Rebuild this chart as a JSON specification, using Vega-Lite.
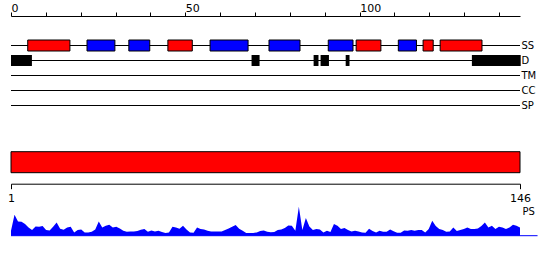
{
  "$schema": "https://vega.github.io/schema/vega-lite/v6.json",
  "padding": {"left": 7, "top": 2, "right": 0, "bottom": 0},
  "spacing": 15.7,
  "config": {
    "view": {"stroke": null},
    "font": "DejaVu Sans",
    "axis": {"domainColor": "black", "tickColor": "black", "labelColor": "black", "titleColor": "black", "grid": false, "labelFont": "DejaVu Sans", "titleFont": "DejaVu Sans"}
  },
  "datasets": {
    "tracks": [
      {"track": "SS", "start": 0, "end": 146},
      {"track": "D", "start": 0, "end": 146},
      {"track": "TM", "start": 0, "end": 146},
      {"track": "CC", "start": 0, "end": 146},
      {"track": "SP", "start": 0, "end": 146}
    ],
    "ss": [
      {"track": "SS", "type": "helix", "start": 4.8, "end": 16.9},
      {"track": "SS", "type": "strand", "start": 21.8, "end": 29.8},
      {"track": "SS", "type": "strand", "start": 33.8, "end": 39.8},
      {"track": "SS", "type": "helix", "start": 45.0, "end": 52.0},
      {"track": "SS", "type": "strand", "start": 57.1, "end": 68.0},
      {"track": "SS", "type": "strand", "start": 74.0, "end": 82.9},
      {"track": "SS", "type": "strand", "start": 91.0, "end": 98.1},
      {"track": "SS", "type": "helix", "start": 99.0, "end": 106.1},
      {"track": "SS", "type": "strand", "start": 111.1, "end": 116.3},
      {"track": "SS", "type": "helix", "start": 118.2, "end": 121.1},
      {"track": "SS", "type": "helix", "start": 123.1, "end": 135.1}
    ],
    "dis": [
      {"track": "D", "start": 0, "end": 6.0},
      {"track": "D", "start": 69.0, "end": 71.3},
      {"track": "D", "start": 86.8, "end": 88.2},
      {"track": "D", "start": 88.8, "end": 91.2},
      {"track": "D", "start": 96.0, "end": 97.1},
      {"track": "D", "start": 132.2, "end": 146.2}
    ],
    "prot": [{"start": 1, "end": 146}],
    "base": [{"pos": 1, "end": 151}],
    "ps": [
      {"pos": 1, "score": 5}, {"pos": 2, "score": 21}, {"pos": 3, "score": 14.3}, {"pos": 4, "score": 14},
      {"pos": 5, "score": 11.7}, {"pos": 6, "score": 8.3}, {"pos": 7, "score": 5.7}, {"pos": 8, "score": 9.3},
      {"pos": 9, "score": 9}, {"pos": 10, "score": 9.7}, {"pos": 11, "score": 5.7}, {"pos": 12, "score": 5.3},
      {"pos": 13, "score": 9}, {"pos": 14, "score": 13.3}, {"pos": 15, "score": 7}, {"pos": 16, "score": 6},
      {"pos": 17, "score": 8.3}, {"pos": 18, "score": 9}, {"pos": 19, "score": 3.3}, {"pos": 20, "score": 5.7},
      {"pos": 21, "score": 6.3}, {"pos": 22, "score": 3.3}, {"pos": 23, "score": 3.3}, {"pos": 24, "score": 4},
      {"pos": 25, "score": 6.3}, {"pos": 26, "score": 14.3}, {"pos": 27, "score": 8.3}, {"pos": 28, "score": 10},
      {"pos": 29, "score": 11}, {"pos": 30, "score": 8.3}, {"pos": 31, "score": 9}, {"pos": 32, "score": 7.3},
      {"pos": 33, "score": 5}, {"pos": 34, "score": 4}, {"pos": 35, "score": 4.3}, {"pos": 36, "score": 4.3},
      {"pos": 37, "score": 4.7}, {"pos": 38, "score": 6}, {"pos": 39, "score": 6.7}, {"pos": 40, "score": 4},
      {"pos": 41, "score": 5.3}, {"pos": 42, "score": 4.3}, {"pos": 43, "score": 5}, {"pos": 44, "score": 3.7},
      {"pos": 45, "score": 2.7}, {"pos": 46, "score": 3.3}, {"pos": 47, "score": 9}, {"pos": 48, "score": 8.3},
      {"pos": 49, "score": 7}, {"pos": 50, "score": 10}, {"pos": 51, "score": 6.3}, {"pos": 52, "score": 3.3},
      {"pos": 53, "score": 3}, {"pos": 54, "score": 8.3}, {"pos": 55, "score": 6.7}, {"pos": 56, "score": 6.3},
      {"pos": 57, "score": 5}, {"pos": 58, "score": 4.3}, {"pos": 59, "score": 4.3}, {"pos": 60, "score": 4.3},
      {"pos": 61, "score": 4.3}, {"pos": 62, "score": 5.7}, {"pos": 63, "score": 7.3}, {"pos": 64, "score": 9},
      {"pos": 65, "score": 10.7}, {"pos": 66, "score": 7}, {"pos": 67, "score": 5}, {"pos": 68, "score": 2.7},
      {"pos": 69, "score": 2.7}, {"pos": 70, "score": 2.7}, {"pos": 71, "score": 3.3}, {"pos": 72, "score": 4.7},
      {"pos": 73, "score": 5.3}, {"pos": 74, "score": 4}, {"pos": 75, "score": 3.5}, {"pos": 76, "score": 3.7},
      {"pos": 77, "score": 5.7}, {"pos": 78, "score": 6.3}, {"pos": 79, "score": 7.7}, {"pos": 80, "score": 10.3},
      {"pos": 81, "score": 10}, {"pos": 82, "score": 5}, {"pos": 83, "score": 29}, {"pos": 84, "score": 5.7},
      {"pos": 85, "score": 17.7}, {"pos": 86, "score": 9.3}, {"pos": 87, "score": 5.7}, {"pos": 88, "score": 6.7},
      {"pos": 89, "score": 6.3}, {"pos": 90, "score": 3.3}, {"pos": 91, "score": 5}, {"pos": 92, "score": 3.7},
      {"pos": 93, "score": 11.7}, {"pos": 94, "score": 10}, {"pos": 95, "score": 6.7}, {"pos": 96, "score": 7.7},
      {"pos": 97, "score": 5.7}, {"pos": 98, "score": 4.3}, {"pos": 99, "score": 5}, {"pos": 100, "score": 4.3},
      {"pos": 101, "score": 3.3}, {"pos": 102, "score": 3}, {"pos": 103, "score": 7}, {"pos": 104, "score": 4.7},
      {"pos": 105, "score": 3.3}, {"pos": 106, "score": 5}, {"pos": 107, "score": 4}, {"pos": 108, "score": 4},
      {"pos": 109, "score": 6.3}, {"pos": 110, "score": 4.5}, {"pos": 111, "score": 3}, {"pos": 112, "score": 3},
      {"pos": 113, "score": 5.3}, {"pos": 114, "score": 5}, {"pos": 115, "score": 5.7}, {"pos": 116, "score": 5},
      {"pos": 117, "score": 5.7}, {"pos": 118, "score": 5.7}, {"pos": 119, "score": 3.3}, {"pos": 120, "score": 6.7},
      {"pos": 121, "score": 15}, {"pos": 122, "score": 9.7}, {"pos": 123, "score": 6.7}, {"pos": 124, "score": 5.7},
      {"pos": 125, "score": 4}, {"pos": 126, "score": 4.3}, {"pos": 127, "score": 8.3}, {"pos": 128, "score": 4.7},
      {"pos": 129, "score": 5.7}, {"pos": 130, "score": 6.7}, {"pos": 131, "score": 8.3}, {"pos": 132, "score": 6.7},
      {"pos": 133, "score": 6.7}, {"pos": 134, "score": 7.3}, {"pos": 135, "score": 9.7}, {"pos": 136, "score": 13.3},
      {"pos": 137, "score": 8.3}, {"pos": 138, "score": 10}, {"pos": 139, "score": 6.7}, {"pos": 140, "score": 9},
      {"pos": 141, "score": 8.3}, {"pos": 142, "score": 6.7}, {"pos": 143, "score": 8.3}, {"pos": 144, "score": 11},
      {"pos": 145, "score": 10}, {"pos": 146, "score": 8.3}
    ]
  },
  "resolve": {"scale": {"x": "independent", "y": "independent"}},
  "vconcat": [
    {
      "width": 509,
      "height": 119,
      "encoding": {
        "x": {"field": "start", "type": "quantitative", "scale": {"domain": [0, 146], "nice": false},
          "axis": {"orient": "top", "title": null, "values": [0, 10, 20, 30, 40, 50, 60, 70, 80, 90, 100, 110, 120, 130, 140],
            "labelExpr": "datum.value % 50 === 0 ? datum.label : ''", "labelAlign": "left", "labelBaseline": "alphabetic",
            "labelPadding": 1, "tickSize": 4, "labelFontSize": 11, "labelFlush": false, "labelOverlap": false}},
        "x2": {"field": "end"},
        "y": {"field": "track", "type": "nominal", "scale": {"type": "point", "domain": ["SS", "D", "TM", "CC", "SP"], "range": [29.5, 89.5], "padding": 0},
          "axis": {"orient": "right", "title": null, "ticks": false, "domain": false, "labelPadding": 1, "labelFontSize": 10}}
      },
      "layer": [
        {"data": {"name": "tracks"}, "mark": {"type": "rule", "color": "black", "strokeWidth": 1}},
        {"data": {"name": "ss"}, "mark": {"type": "bar", "size": 11, "stroke": "black", "strokeWidth": 1},
          "encoding": {"color": {"field": "type", "type": "nominal", "scale": {"domain": ["helix", "strand"], "range": ["#ff0000", "#0000ff"]}, "legend": null}}},
        {"data": {"name": "dis"}, "mark": {"type": "bar", "size": 11, "color": "black"}}
      ]
    },
    {
      "spacing": 2,
      "resolve": {"scale": {"x": "independent", "y": "independent"}},
      "vconcat": [
        {
          "width": 509,
          "height": 21,
          "data": {"name": "prot"},
          "mark": {"type": "rect", "fill": "#ff0000", "stroke": "black", "strokeWidth": 1},
          "encoding": {
            "x": {"field": "start", "type": "quantitative", "scale": {"domain": [1, 146], "nice": false},
              "axis": {"orient": "bottom", "values": [1, 146], "offset": 11, "tickSize": 5, "labelPadding": 4, "labelFontSize": 11, "title": null, "labelFlush": false, "labelAlign": "center"}},
            "x2": {"field": "end"}
          }
        },
        {
          "width": 509,
          "height": 30,
          "layer": [
            {"data": {"name": "ps"}, "mark": {"type": "area", "color": "#0000ff", "interpolate": "linear"},
              "encoding": {
                "x": {"field": "pos", "type": "quantitative", "scale": {"domain": [1, 146], "nice": false}, "axis": null},
                "y": {"field": "score", "type": "quantitative", "scale": {"domain": [0, 30], "nice": false},
                  "axis": {"orient": "right", "title": "PS", "titleAngle": 0, "titleAnchor": "end", "titleAlign": "left", "titleBaseline": "top",
                    "titlePadding": 2, "titleY": 1, "titleFontSize": 10, "titleFontWeight": "normal", "labels": false, "ticks": false, "domain": false}}
              }},
            {"data": {"name": "base"}, "mark": {"type": "rule", "color": "#0000ff", "strokeWidth": 1},
              "encoding": {
                "x": {"field": "pos", "type": "quantitative"},
                "x2": {"field": "end"},
                "y": {"datum": 0, "type": "quantitative"}
              }}
          ]
        }
      ]
    }
  ]
}
